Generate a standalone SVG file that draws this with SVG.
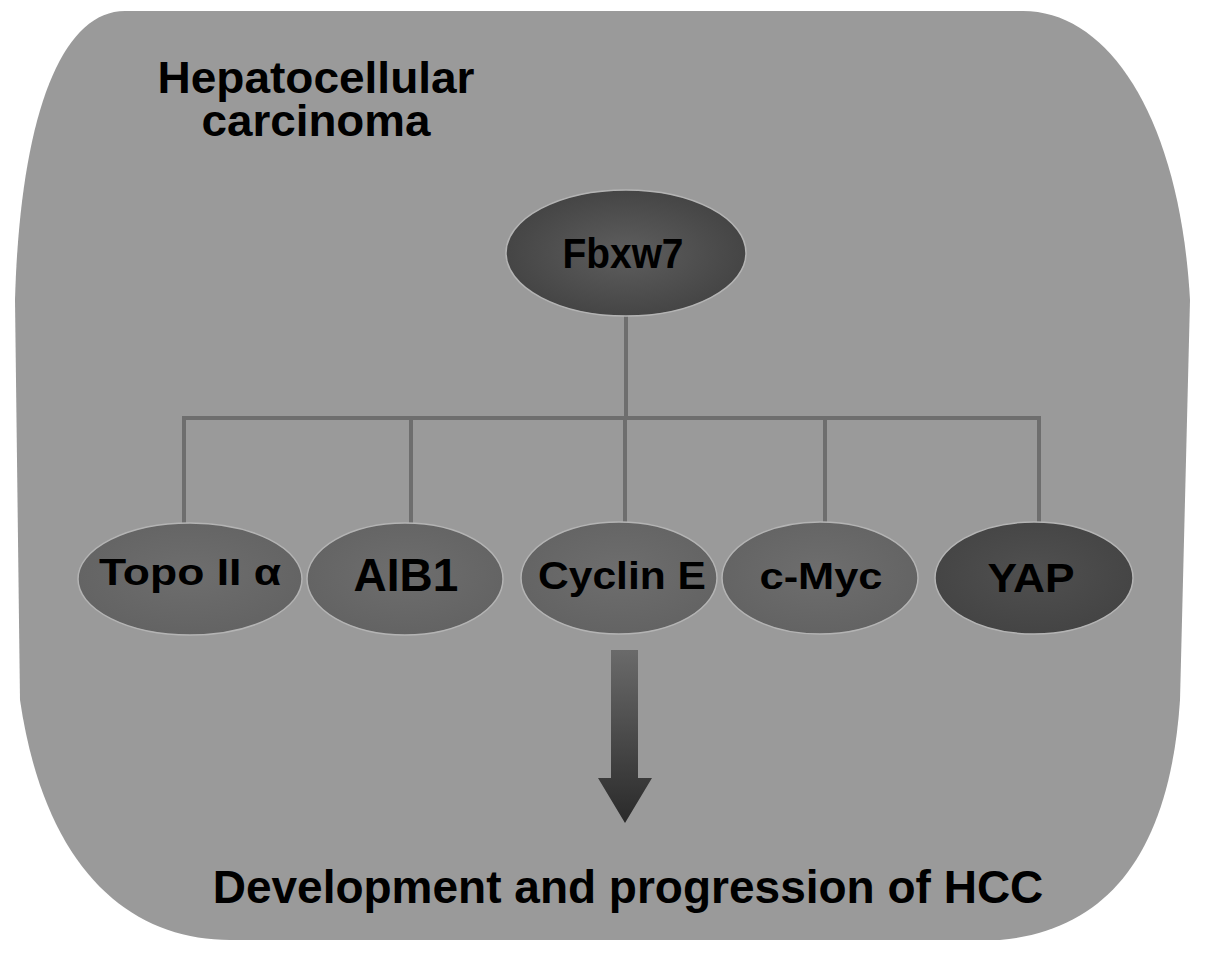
<svg xmlns="http://www.w3.org/2000/svg" width="1205" height="954" viewBox="0 0 1205 954">
<style>
  text { font-family: "Liberation Sans", Arial, sans-serif; font-weight: bold; fill: #000; text-anchor: middle; }
  .conn { stroke: #6e6e6e; stroke-width: 4; fill: none; }
  .node { stroke: #b4b4b4; stroke-width: 1.5; }
</style>
<defs>
  <radialGradient id="gTop" cx="50%" cy="50%" r="50%">
    <stop offset="0" stop-color="#5e5e5e"/>
    <stop offset="1" stop-color="#454545"/>
  </radialGradient>
  <radialGradient id="gMid" cx="50%" cy="45%" r="55%">
    <stop offset="0" stop-color="#6e6e6e"/>
    <stop offset="1" stop-color="#636363"/>
  </radialGradient>
  <radialGradient id="gDark" cx="50%" cy="45%" r="55%">
    <stop offset="0" stop-color="#505050"/>
    <stop offset="1" stop-color="#444444"/>
  </radialGradient>
  <linearGradient id="gArrow" x1="0" y1="0" x2="0" y2="1">
    <stop offset="0" stop-color="#6a6a6a"/>
    <stop offset="1" stop-color="#2a2a2a"/>
  </linearGradient>
</defs>

<rect x="0" y="0" width="1205" height="954" fill="#ffffff"/>

<g id="background">
  <path d="M 15,300 C 20,120 60,11 125,11 L 1023,11 C 1110,11 1180,120 1190,300 L 1180,700 C 1170,850 1110,930 1000,940 L 230,940 C 130,940 45,870 20,700 Z" fill="#9a9a9a"/>
  <text x="316" y="93" font-size="44" textLength="317" lengthAdjust="spacingAndGlyphs">Hepatocellular</text>
  <text x="316" y="136" font-size="44" textLength="229" lengthAdjust="spacingAndGlyphs">carcinoma</text>
</g>

<g id="connectors">
  <line class="conn" x1="626" y1="316" x2="626" y2="418"/>
  <line class="conn" x1="182" y1="418" x2="1041" y2="418"/>
  <line class="conn" x1="184" y1="418" x2="184" y2="526"/>
  <line class="conn" x1="411" y1="418" x2="411" y2="525"/>
  <line class="conn" x1="625" y1="418" x2="625" y2="525"/>
  <line class="conn" x1="825" y1="418" x2="825" y2="524"/>
  <line class="conn" x1="1039" y1="418" x2="1039" y2="525"/>
  <g id="arrow">
    <path d="M 611,650 L 638,650 L 638,778 L 652,778 L 625,823 L 598,778 L 611,778 Z" fill="url(#gArrow)"/>
  </g>
</g>

<g id="node-fbxw7">
  <ellipse class="node" cx="626" cy="253" rx="120" ry="63" fill="url(#gTop)"/>
  <text x="623" y="268" font-size="42" textLength="121" lengthAdjust="spacingAndGlyphs">Fbxw7</text>
</g>

<g id="node-topo">
  <ellipse class="node" cx="190" cy="579" rx="112" ry="56" fill="url(#gMid)"/>
  <text x="190" y="585" font-size="37" textLength="182" lengthAdjust="spacingAndGlyphs">Topo II α</text>
</g>

<g id="node-aib1">
  <ellipse class="node" cx="405" cy="579" rx="98" ry="56" fill="url(#gMid)"/>
  <text x="406" y="591" font-size="46">AIB1</text>
</g>

<g id="node-cycline">
  <ellipse class="node" cx="619" cy="578" rx="98" ry="56" fill="url(#gMid)"/>
  <text x="622" y="589" font-size="38" textLength="168" lengthAdjust="spacingAndGlyphs">Cyclin E</text>
</g>

<g id="node-cmyc">
  <ellipse class="node" cx="820" cy="578" rx="98" ry="56" fill="url(#gMid)"/>
  <text x="821" y="589" font-size="37" textLength="123" lengthAdjust="spacingAndGlyphs">c-Myc</text>
</g>

<g id="node-yap">
  <ellipse class="node" cx="1034" cy="578" rx="99" ry="56" fill="url(#gDark)"/>
  <text x="1031" y="592" font-size="40" textLength="87" lengthAdjust="spacingAndGlyphs">YAP</text>
</g>

<g id="outcome">
  <text x="628" y="903" font-size="46">Development and progression of HCC</text>
</g>
</svg>
